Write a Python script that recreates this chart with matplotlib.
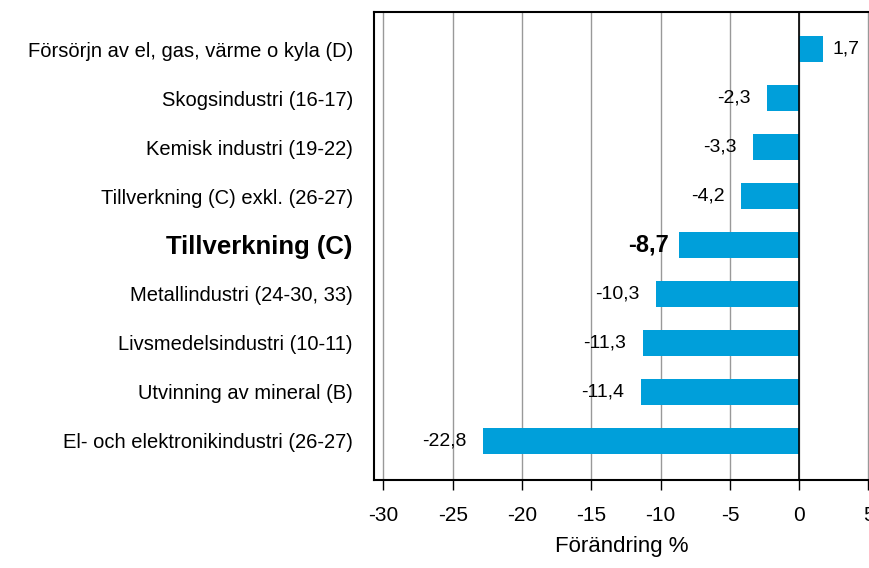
import numpy as np
import matplotlib.pyplot as plt

plt.rcParams['font.family'] = ['Liberation Sans', 'DejaVu Sans']

categories = ['Försörjn av el, gas, värme o kyla (D)',
              'Skogsindustri (16-17)',
              'Kemisk industri (19-22)',
              'Tillverkning (C) exkl. (26-27)',
              'Tillverkning (C)',
              'Metallindustri (24-30, 33)',
              'Livsmedelsindustri (10-11)',
              'Utvinning av mineral (B)',
              'El- och elektronikindustri (26-27)']
values = [1.7, -2.3, -3.3, -4.2, -8.7, -10.3, -11.3, -11.4, -22.8]
value_labels = ['1,7', '-2,3', '-3,3', '-4,2', '-8,7', '-10,3', '-11,3', '-11,4', '-22,8']
bold_index = 4

fig = plt.figure(figsize=(8.69, 5.68), dpi=100)
ax = fig.add_axes([0.430, 0.155, 0.571, 0.824])

y = np.arange(len(categories))
ax.barh(y, values, height=0.53, color='#009fda', zorder=3)

ax.set_xlim(-30.7, 5.1)
ax.set_ylim(len(categories) - 0.2, -0.76)
ax.set_xticks(np.arange(-30, 6, 5))
ax.set_xticklabels(['-30', '-25', '-20', '-15', '-10', '-5', '0', '5'], fontsize=15)
ax.tick_params(axis='x', direction='out', length=7, width=1, pad=12)
ax.grid(axis='x', color='#999999', linewidth=1, zorder=0)
ax.axvline(0, color='black', linewidth=1.2, zorder=4)

ax.set_yticks(y)
ax.set_yticklabels(categories, fontsize=14.5)
ax.tick_params(axis='y', length=0, pad=15)
ax.get_yticklabels()[bold_index].set_fontweight('bold')
ax.get_yticklabels()[bold_index].set_fontsize(18.5)

for i, (v, lab) in enumerate(zip(values, value_labels)):
    if v >= 0:
        ax.text(v + 0.7, i, lab, va='center', ha='left', fontsize=14, zorder=5)
    elif i == bold_index:
        ax.text(v - 0.7, i, lab, va='center', ha='right', fontsize=17,
                fontweight='bold', zorder=5)
    else:
        ax.text(v - 1.2, i, lab, va='center', ha='right', fontsize=14, zorder=5)

for s in ['left', 'top', 'bottom']:
    ax.spines[s].set_linewidth(1.5)
ax.spines['right'].set_visible(False)

ax.set_xlabel('Förändring %', fontsize=16, labelpad=8)

plt.savefig('out.png', dpi=100)
